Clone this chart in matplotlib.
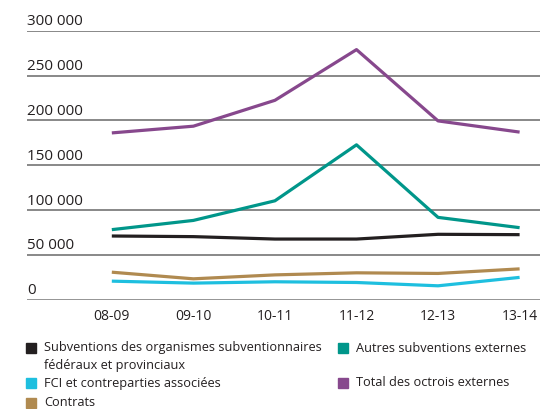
import matplotlib.pyplot as plt
from matplotlib.patches import Rectangle

years = ["08-09", "09-10", "10-11", "11-12", "12-13", "13-14"]
subventions_fed_prov = [70900, 70200, 67500, 67500, 72800, 72400]
autres_subventions = [78000, 88300, 110200, 172700, 91700, 80200]
fci = [20500, 18300, 19800, 19000, 15300, 24700]
contrats = [30500, 23100, 27500, 29800, 29100, 34200]
total_octrois = [186000, 193500, 222400, 279000, 199400, 186900]
yticks = [0, 50000, 100000, 150000, 200000, 250000, 300000]
ytick_labels = ["0", "50 000", "100 000", "150 000", "200 000", "250 000", "300 000"]

plt.rcParams['font.family'] = ['Open Sans', 'DejaVu Sans']

fig = plt.figure(figsize=(5.4, 4.09), dpi=100)
ax = fig.add_axes([0.05, 0.2677, 0.95, 0.657])

series = [
    (subventions_fed_prov, "#231f20"),
    (autres_subventions, "#00968a"),
    (fci, "#1ebfdf"),
    (contrats, "#b08a50"),
    (total_octrois, "#87488d"),
]

xs = range(len(years))
for vals, col in series:
    ax.plot(xs, vals, color=col, lw=2.3, solid_capstyle="butt", zorder=3)

ax.set_ylim(0, 300000)
ax.set_xlim(-1.04, 5.25)
for v in yticks:
    ax.axhline(v, color="#7f7f7f" if v else "#8c8c8c", lw=1.3, zorder=1)
for v, lab in zip(yticks, ytick_labels):
    ax.text(0.0, v + 1500, lab, transform=ax.get_yaxis_transform(), ha="left", va="bottom",
            fontsize=11, color="#231f20")
ax.set_yticks([])
ax.set_xticks(list(xs))
ax.set_xticklabels(years, fontsize=10, color="#231f20")
ax.tick_params(axis="x", length=0, pad=7)
for s in ax.spines.values():
    s.set_visible(False)

# legend, drawn by hand
W, H = 540, 409
FS = 9.2
def legend_item(x, y, col, text):
    fig.patches.append(Rectangle((x / W, 1 - (y + 5) / H), 10 / W, 10 / H,
                                 transform=fig.transFigure, color=col))
    fig.text((x + 18) / W, 1 - y / H, text, ha="left", va="center",
             fontsize=FS, color="#231f20")

legend_item(26, 348, "#231f20", "Subventions des organismes subventionnaires")
fig.text(44 / W, 1 - 365 / H, "fédéraux et provinciaux", ha="left", va="center",
         fontsize=FS, color="#231f20")
legend_item(26, 383, "#1ebfdf", "FCI et contreparties associées")
legend_item(26, 403, "#b08a50", "Contrats")
legend_item(338, 348, "#00968a", "Autres subventions externes")
legend_item(338, 383, "#87488d", "Total des octrois externes")

fig.savefig("out.png", dpi=100)
